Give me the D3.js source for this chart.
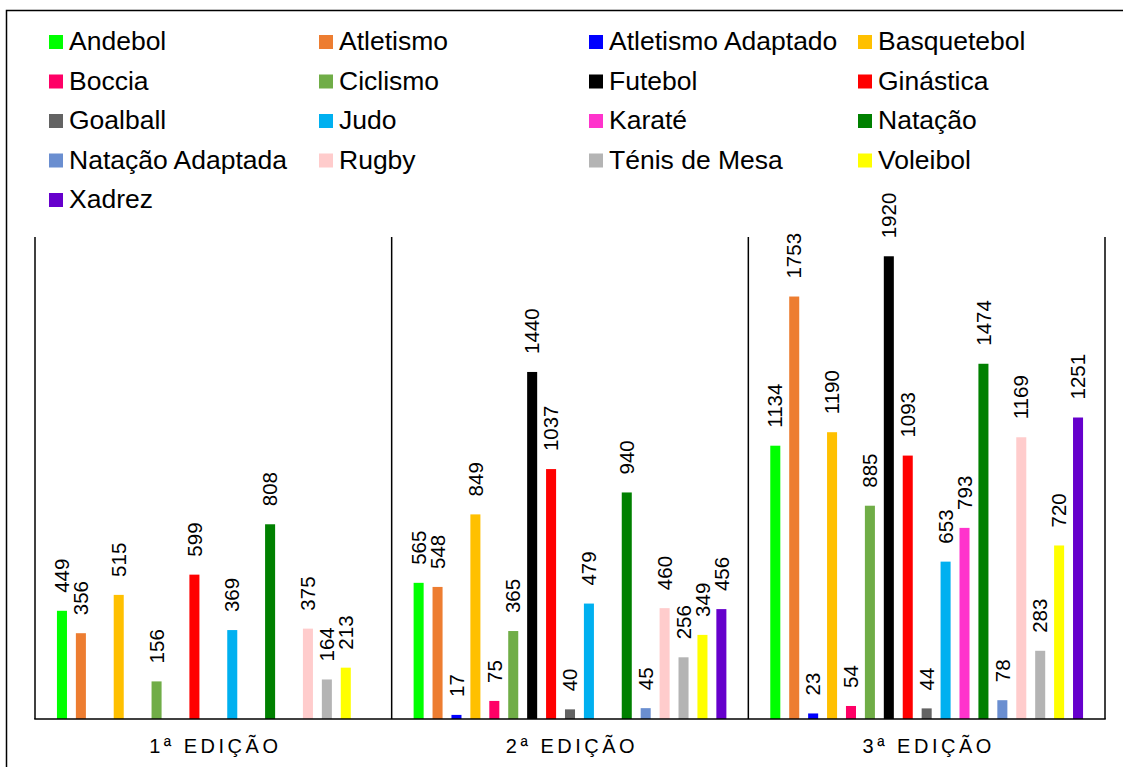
<!DOCTYPE html>
<html>
<head>
<meta charset="utf-8">
<script src="https://cdn.jsdelivr.net/npm/d3@7"></script>
<style>
  body { margin: 0; background: #ffffff; }
  svg { display: block; font-family: "Liberation Sans", Arial, sans-serif; }
  .legend-label { font-size: 26.5px; fill: #000000; }
  .value-label { font-size: 20.5px; fill: #000000; }
  .edition-label { font-size: 20px; fill: #000000; letter-spacing: 3.5px; }
</style>
</head>
<body>
<svg id="chart" width="1123" height="767"></svg>
<script>
// sports (series), in legend and bar order
var sports = [
  "Andebol", "Atletismo", "Atletismo Adaptado", "Basquetebol",
  "Boccia", "Ciclismo", "Futebol", "Ginástica",
  "Goalball", "Judo", "Karaté", "Natação",
  "Natação Adaptada", "Rugby", "Ténis de Mesa", "Voleibol",
  "Xadrez"
];

// editions (categories)
var editions = ["1ª EDIÇÃO", "2ª EDIÇÃO", "3ª EDIÇÃO"];

// values per edition, one per sport (null = no bar)
var edition1 = [449, 356, null, 515, null, 156, null, 599, null, 369, null, 808, null, 375, 164, 213, null];
var edition2 = [565, 548, 17, 849, 75, 365, 1440, 1037, 40, 479, null, 940, 45, 460, 256, 349, 456];
var edition3 = [1134, 1753, 23, 1190, 54, 885, 1920, 1093, 44, 653, 793, 1474, 78, 1169, 283, 720, 1251];

var sportColours = [
  "#00ff00", "#ed7d31", "#0000ff", "#ffc000",
  "#ff0066", "#70ad47", "#000000", "#ff0000",
  "#636363", "#00b0f0", "#ff33cc", "#008000",
  "#6a8ed0", "#ffcccc", "#b4b4b4", "#ffff00",
  "#6600cc"
];

var chart = {
  left: 35,
  right: 1105,
  top: 237,
  bottom: 719
};

var svg = d3.select("#chart");

drawFrame();
drawLegend();
drawBars();

/*
    NAME: drawFrame
    DESCRIPTION: outer border of the chart area
*/
function drawFrame() {
  svg
    .append("rect")
    .attr("x", 6.5)
    .attr("y", 10.5)
    .attr("width", 1140)
    .attr("height", 800)
    .attr("fill", "none")
    .attr("stroke", "#000000")
    .attr("stroke-width", 1.5);
} // end function drawFrame

/*
    NAME: drawLegend
    DESCRIPTION: 4 column legend, swatch + sport name
*/
function drawLegend() {
  var colX = [49, 319, 589, 858];
  var rowY = 50;
  var rowStep = 39.5;

  var item = svg
    .append("g")
    .attr("class", "legend")
    .selectAll("g")
    .data(sports)
    .enter()
    .append("g")
    .attr("transform", function (d, i) {
      return "translate(" + colX[i % 4] + "," + (rowY + Math.floor(i / 4) * rowStep) + ")";
    });

  item
    .append("rect")
    .attr("x", 0)
    .attr("y", -15)
    .attr("width", 14)
    .attr("height", 14)
    .attr("fill", function (d, i) {
      return sportColours[i];
    });

  item
    .append("text")
    .attr("class", "legend-label")
    .attr("x", 20)
    .attr("y", 0)
    .text(function (d) {
      return d;
    });
} // end function drawLegend

/*
    NAME: drawBars
    DESCRIPTION: grouped bars per edition, rotated value labels, axis lines
*/
function drawBars() {
  var values = [edition1, edition2, edition3];

  var x0 = d3
    .scaleBand()
    .domain(editions)
    .range([chart.left, chart.right])
    .padding(0);

  var x1 = d3
    .scaleBand()
    .domain(sports)
    .range([0, x0.bandwidth()])
    .paddingInner(0.47)
    .paddingOuter(1.16);

  var y = d3.scaleLinear().domain([0, 2000]).range([chart.bottom, chart.top]);

  var group = svg
    .append("g")
    .attr("class", "groups")
    .selectAll("g")
    .data(editions)
    .enter()
    .append("g")
    .attr("transform", function (d) {
      return "translate(" + x0(d) + ",0)";
    });

  group.each(function (ed, gi) {
    var rows = sports
      .map(function (s, i) {
        return { sport: s, value: values[gi][i], colour: sportColours[i] };
      })
      .filter(function (d) {
        return d.value != null;
      });

    var g = d3.select(this);

    g.selectAll("rect")
      .data(rows)
      .enter()
      .append("rect")
      .attr("x", function (d) {
        return x1(d.sport);
      })
      .attr("y", function (d) {
        return y(d.value);
      })
      .attr("width", x1.bandwidth())
      .attr("height", function (d) {
        return y(0) - y(d.value);
      })
      .attr("fill", function (d) {
        return d.colour;
      });

    g.selectAll("text.value-label")
      .data(rows)
      .enter()
      .append("text")
      .attr("class", "value-label")
      .attr("transform", function (d) {
        var cx = x1(d.sport) + x1.bandwidth() / 2;
        return "translate(" + cx + "," + (y(d.value) - 18) + ") rotate(-90)";
      })
      .attr("dy", "0.35em")
      .text(function (d) {
        return d.value;
      });

    // edition label under the group
    g.append("text")
      .attr("class", "edition-label")
      .attr("x", x0.bandwidth() / 2 + 2)
      .attr("y", 753)
      .attr("text-anchor", "middle")
      .text(ed);
  });

  // separators between editions (and both ends)
  var ticks = editions.map(function (d) {
    return x0(d);
  });
  ticks.push(chart.right);

  svg
    .append("g")
    .attr("class", "separators")
    .selectAll("line")
    .data(ticks)
    .enter()
    .append("line")
    .attr("x1", function (d) {
      return d;
    })
    .attr("x2", function (d) {
      return d;
    })
    .attr("y1", chart.top)
    .attr("y2", chart.bottom)
    .attr("stroke", "#000000")
    .attr("stroke-width", 1.5);

  // baseline
  svg
    .append("line")
    .attr("x1", chart.left - 0.75)
    .attr("x2", chart.right + 0.75)
    .attr("y1", chart.bottom)
    .attr("y2", chart.bottom)
    .attr("stroke", "#000000")
    .attr("stroke-width", 1.5);
} // end function drawBars
</script>
</body>
</html>
